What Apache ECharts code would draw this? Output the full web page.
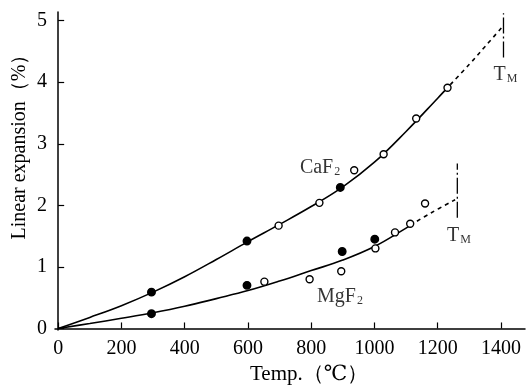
<!DOCTYPE html>
<html>
<head>
<meta charset="utf-8">
<script src="https://cdn.jsdelivr.net/npm/echarts@6/dist/echarts.min.js"></script>
<style>
html,body{margin:0;padding:0;background:#fff;}
#c{width:528px;height:389px;}
</style>
</head>
<body>
<div id="c"></div>
<script>
// ---- data ----
var xTicks = [0, 200, 400, 600, 800, 1000, 1200, 1400];
var yTicks = [0, 1, 2, 3, 4, 5];
var xTitle = 'Temp.（℃）';
var yTitle = 'Linear expansion（%）';

// CaF2 fitted curve (solid) and extrapolation (dashed)
var cafCurve = [[0,0],[100,0.18],[200,0.37],[300,0.59],[400,0.84],[500,1.12],[600,1.41],[700,1.69],[800,1.98],[900,2.30],[1000,2.70],[1100,3.20],[1200,3.74],[1240,3.96]];
var cafDash = [[1240,3.96],[1300,4.29],[1350,4.58],[1408,4.92]];
var cafFilled = [[295,0.59],[597,1.42],[892,2.29]];
var cafOpen = [[697,1.67],[826,2.04],[936,2.57],[1029,2.83],[1132,3.41],[1231,3.91]];

// MgF2 fitted curve (solid) and extrapolation (dashed)
var mgCurve = [[0,0],[100,0.08],[200,0.165],[300,0.255],[400,0.36],[500,0.485],[600,0.615],[700,0.77],[800,0.94],[900,1.11],[1000,1.33],[1100,1.63],[1113,1.675]];
var mgDash = [[1113,1.675],[1180,1.88],[1255,2.09]];
var mgFilled = [[295,0.24],[597,0.70],[898,1.25],[1001,1.45]];
var mgOpen = [[652,0.76],[795,0.80],[895,0.93],[1003,1.30],[1065,1.56],[1113,1.70],[1160,2.03]];

// melting-point markers
var tmCaF = [[1408,4.40],[1408,5.12]];
var tmMg = [[1262,1.80],[1262,2.68]];

// annotations
var labels = [
  {pos:[828,2.61], text:'{b|CaF}{s|2}'},
  {pos:[891,0.51], text:'{b|MgF}{s|2}'},
  {pos:[1414,4.12], text:'{b|T}{s|M}'},
  {pos:[1267,1.50], text:'{b|T}{s|M}'}
];

var FONT = '"Liberation Serif", "DejaVu Serif", serif';
var chart = echarts.init(document.getElementById('c'), null, {renderer:'canvas'});

function lineS(d, dashed, w){
  return {type:'line', data:d, smooth:0.4, symbol:'none', silent:true,
    lineStyle:{color:'#000', width:w||1.6, type: dashed ? [4,4] : 'solid'}, z:2};
}
function scat(d, filled){
  return {type:'scatter', data:d, symbol:'circle', symbolSize: filled ? 7.5 : 7, silent:true,
    itemStyle:{color: filled ? '#000' : '#fff', borderColor:'#000', borderWidth:1.4, opacity:1}, z:5};
}
function plain(v){ return String(v); }

var option = {
  animation:false,
  backgroundColor:'#fff',
  grid:{left:55, right:3, top:12, bottom:59},
  graphic:[
    {type:'text', left:250, top:364, style:{text:xTitle, font:'21px ' + FONT, fill:'#000'}},
    {type:'text', x:20, y:142, rotation:Math.PI/2,
      style:{text:yTitle, font:'20px ' + FONT, fill:'#000', align:'center', verticalAlign:'middle'}}
  ],
  xAxis:{
    type:'value', min:-10, max:1476,
    axisLine:{lineStyle:{color:'#000', width:1.5}},
    axisTick:{inside:true, length:6, lineStyle:{color:'#000', width:1.2}, customValues:xTicks},
    axisLabel:{customValues:xTicks, formatter:plain, fontFamily:FONT, fontSize:20, color:'#000', margin:9},
    splitLine:{show:false}
  },
  yAxis:{
    type:'value', min:-0.025, max:5.14,
    axisLine:{lineStyle:{color:'#000', width:1.5}},
    axisTick:{inside:true, length:6, lineStyle:{color:'#000', width:1.2}, customValues:yTicks},
    axisLabel:{customValues:yTicks, formatter:plain, fontFamily:FONT, fontSize:20, color:'#000', margin:8},
    splitLine:{show:false}
  },
  series:[
    lineS(cafCurve,false), lineS(cafDash,true),
    lineS(mgCurve,false), lineS(mgDash,true),
    {type:'line', data:tmCaF, symbol:'none', silent:true, lineStyle:{color:'#000', width:1.3, type:[16,3,2,3]}},
    {type:'line', data:tmMg, symbol:'none', silent:true, lineStyle:{color:'#000', width:1.3, type:[16,3,2,3]}},
    scat(cafFilled,true), scat(cafOpen,false),
    scat(mgFilled,true), scat(mgOpen,false),
    {type:'scatter', symbol:'circle', symbolSize:1, silent:true, z:10,
      itemStyle:{color:'rgba(0,0,0,0)'},
      data: labels.map(function(l){return {value:l.pos, label:{formatter:l.text}};}),
      label:{show:true, position:'inside', color:'#000', textBorderWidth:0,
        rich:{b:{fontFamily:FONT, fontSize:20, color:'#000', textBorderWidth:0},
              s:{fontFamily:FONT, fontSize:12, color:'#000', textBorderWidth:0, verticalAlign:'bottom', padding:[6,0,0,1]}}}
    }
  ]
};
chart.setOption(option);
</script>
</body>
</html>
